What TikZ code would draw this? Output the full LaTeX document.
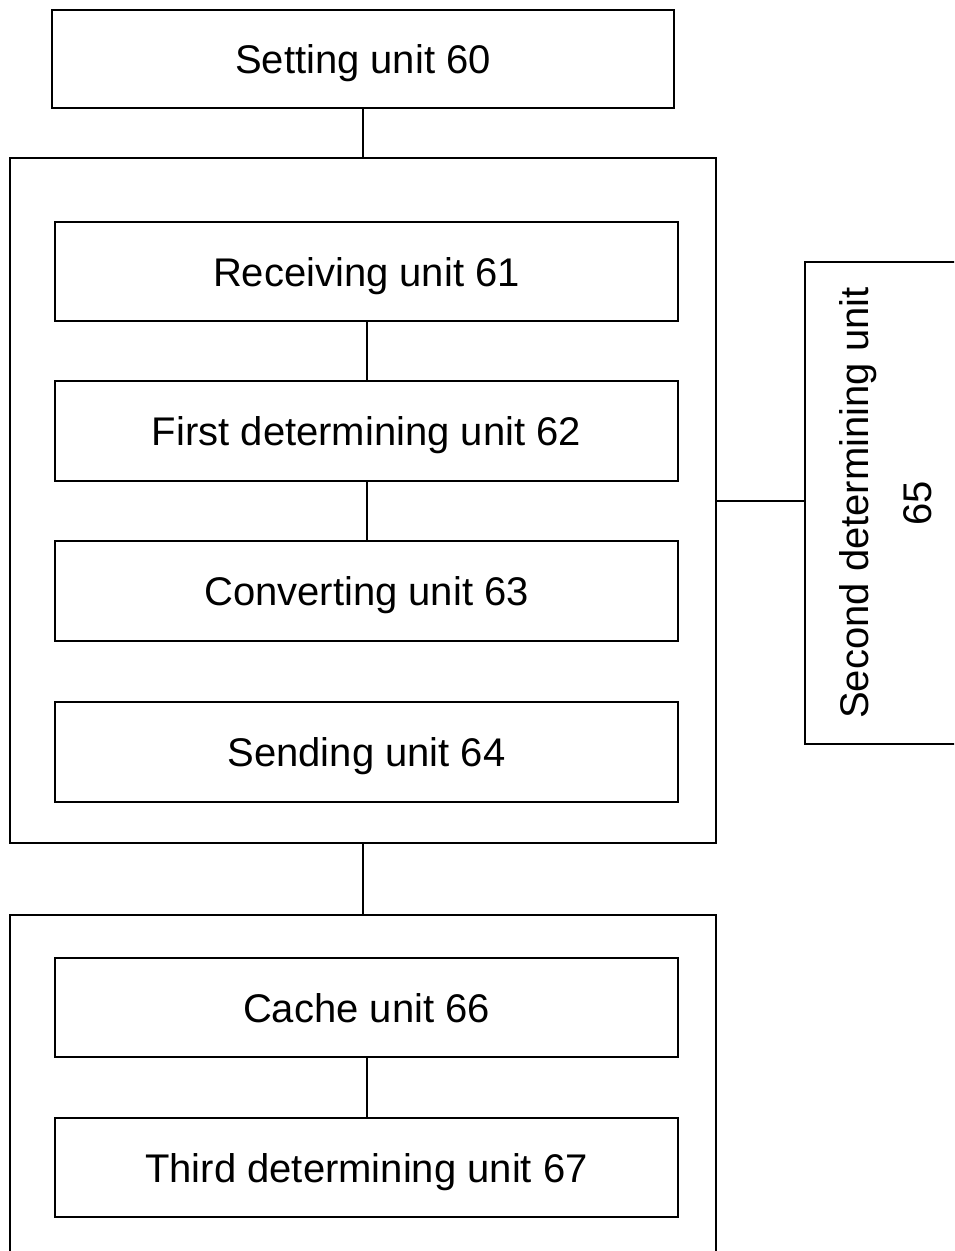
\documentclass[tikz,border=0pt]{standalone}
\usepackage{fontspec}
\setmainfont{Liberation Sans}
\begin{document}
\begin{tikzpicture}[x=1pt,y=-1pt,
  box/.style={draw=black, line width=2pt, rectangle, inner sep=0pt, text height=29pt, text depth=0pt, font=\fontsize{40}{48}\selectfont},
  conn/.style={draw=black, line width=2pt}]
\useasboundingbox (0,0) rectangle (954,1251);
\clip (0,0) rectangle (954,1251);
\fill[white] (0,0) rectangle (954,1251);
% outer containers
\node[box, minimum width=706pt, minimum height=685pt] (outerA) at (363,500.5) {};
\node[box, minimum width=706pt, minimum height=350pt] (outerB) at (363,1090) {};
% boxes
\node[box, minimum width=622pt, minimum height=98pt] (set) at (363,59) {Setting unit 60};
\node[box, minimum width=623pt, minimum height=99pt] (recv) at (366.5,271.5) {Receiving unit 61};
\node[box, minimum width=623pt, minimum height=100pt] (first) at (366.5,431) {First determining unit 62};
\node[box, minimum width=623pt, minimum height=100pt] (conv) at (366.5,591) {Converting unit 63};
\node[box, minimum width=623pt, minimum height=100pt] (send) at (366.5,752) {Sending unit 64};
\node[box, minimum width=623pt, minimum height=99pt] (cache) at (366.5,1007.5) {Cache unit 66};
\node[box, minimum width=623pt, minimum height=99pt] (third) at (366.5,1167.5) {Third determining unit 67};
\node[box, minimum width=162pt, minimum height=482pt] (second) at (886,503) {};
\node[rotate=90, align=center, inner sep=0pt, font=\fontsize{40}{63}\selectfont] (secondtext) at (second.center) {Second determining unit\\65};
% connectors
\draw[conn] (set.south) -- (outerA.north);
\draw[conn] (recv.south) -- (first.north);
\draw[conn] (first.south) -- (conv.north);
\draw[conn] (outerA.south) -- (outerB.north);
\draw[conn] (cache.south) -- (third.north);
\draw[conn] (outerA.east) -- (outerA.east -| second.west);
\end{tikzpicture}
\end{document}
